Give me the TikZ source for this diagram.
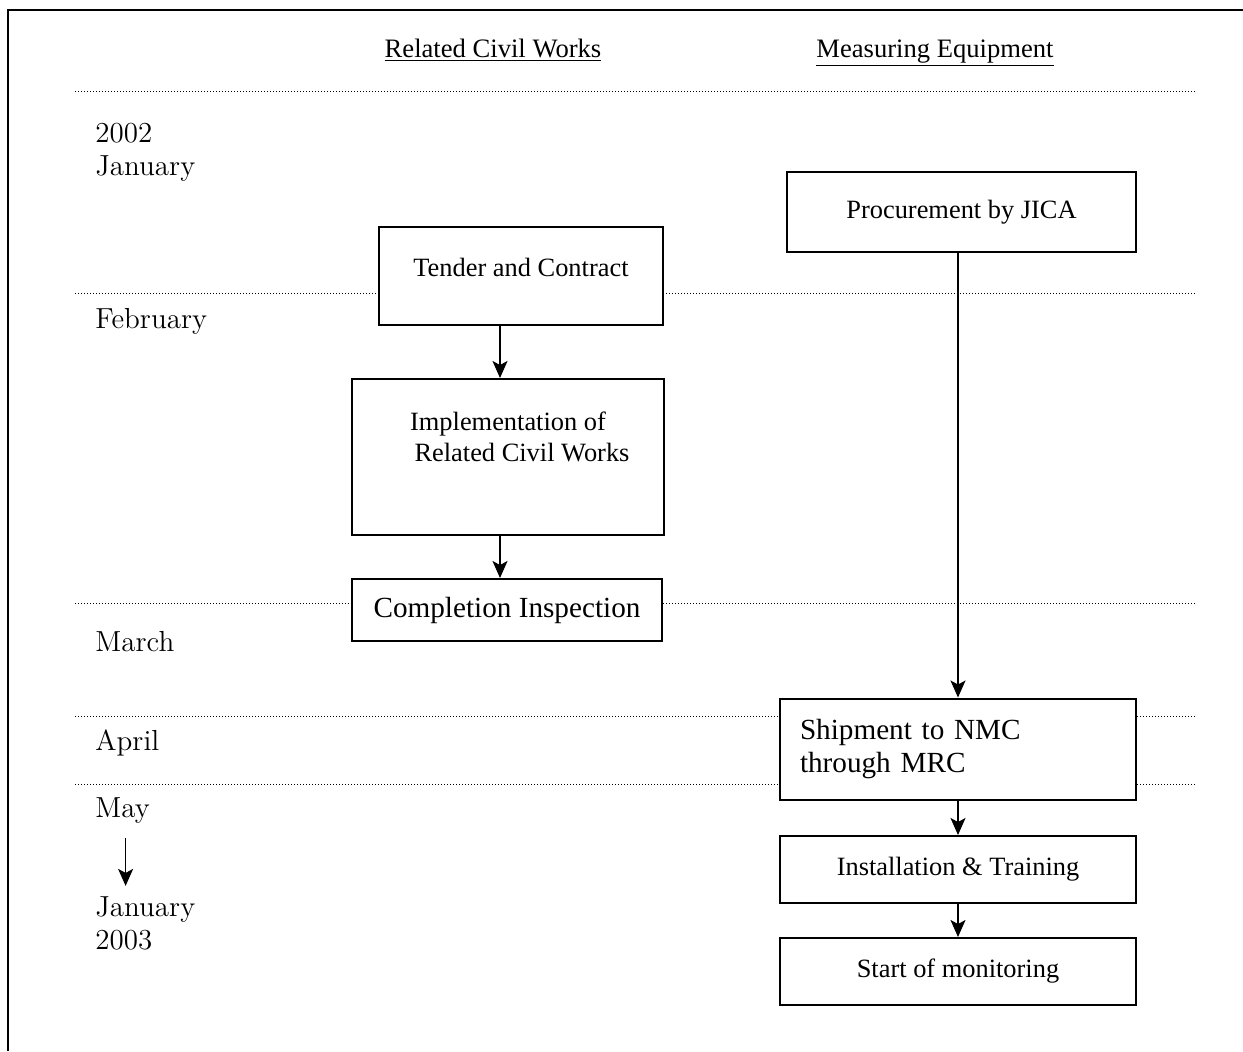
\documentclass[tikz,border=0pt]{standalone}
\usepackage{fontspec}
\newfontfamily\timesfont{Liberation Serif}
\usetikzlibrary{arrows.meta}
\begin{document}
\begin{tikzpicture}[x=0.5pt,y=-0.5pt,
  box/.style={draw,fill=white,line width=1pt,inner sep=0pt,
    font=\timesfont\fontsize{13.2}{16}\selectfont},
  bigbox/.style={box,font=\timesfont\fontsize{14.6}{16.5}\selectfont},
  month/.style={anchor=west,align=left,inner sep=0pt,
    font=\fontsize{14.5}{16.5}\selectfont},
  head/.style={anchor=base,inner sep=0pt,font=\timesfont\fontsize{13.3}{16}\selectfont},
  sep/.style={line width=0.5pt,dash pattern=on 0.5pt off 1pt},
  flow/.style={-{Stealth[length=8.5pt,width=7.5pt,inset=2pt]},line width=0.8pt}]
\useasboundingbox (0,0) rectangle (1243,1051);
% frame
\draw[line width=1pt] (8,1051) -- (8,10) -- (1243,10);
% column heads
\node[head] (civil) at (493,57) {\underline{Related Civil Works}};
\node[head] (equip) at (935,57) {\underline{Measuring Equipment}};
% month separators
\draw[sep] (75,91) -- (1197,91);
\draw[sep] (75,293) -- (1197,293);
\draw[sep] (75,603) -- (1197,603);
\draw[sep] (75,716) -- (1197,716);
\draw[sep] (75,784) -- (1197,784);
% months
\node[month] (jan02) at (95,152) {2002\\January};
\node[month] (feb) at (95,321) {February};
\node[month] (mar) at (95,642) {March};
\node[month] (apr) at (95,743) {April};
\node[month] (may) at (95,811) {May};
\node[month] (jan03) at (95,923) {January\\2003};
\draw[flow,line width=0.7pt,shorten <=7pt,shorten >=5pt] ([xshift=1.5pt]may.south) -- ([xshift=1.5pt]may.south |- jan03.north);
% related civil works
\node[box,minimum width=142pt,minimum height=49pt,text depth=8.5pt] (tender) at (521,276) {Tender and Contract};
\node[box,minimum width=156pt,minimum height=78pt,
  label={[font=\timesfont\fontsize{13.2}{15.5}\selectfont,align=center,anchor=north,inner sep=0pt,yshift=-17pt]north:Implementation of\\ \hspace*{14pt}Related Civil Works}]
  (impl) at (508,457) {};
\node[bigbox,minimum width=155pt,minimum height=31pt] (compl) at (507,610) {Completion Inspection};
% measuring equipment
\node[box,minimum width=174.5pt,minimum height=40pt] (proc) at (961.5,212) {Procurement by JICA};
\node[bigbox,minimum height=50.5pt,text width=158pt,inner xsep=10pt,align=left] (ship) at (958,749) {Shipment to NMC\\through MRC};
\node[box,minimum width=178pt,minimum height=33.5pt] (inst) at (958,869.5) {Installation \& Training};
\node[box,minimum width=178pt,minimum height=33.5pt] (start) at (958,971.5) {Start of monitoring};
% flow
\coordinate (llane) at (500,0);
\coordinate (rlane) at (958,0);
\draw[flow] (llane |- tender.south) -- (llane |- impl.north);
\draw[flow] (llane |- impl.south) -- (llane |- compl.north);
\draw[flow] (rlane |- proc.south) -- (rlane |- ship.north);
\draw[flow] (rlane |- ship.south) -- (rlane |- inst.north);
\draw[flow] (rlane |- inst.south) -- (rlane |- start.north);
\end{tikzpicture}
\end{document}
